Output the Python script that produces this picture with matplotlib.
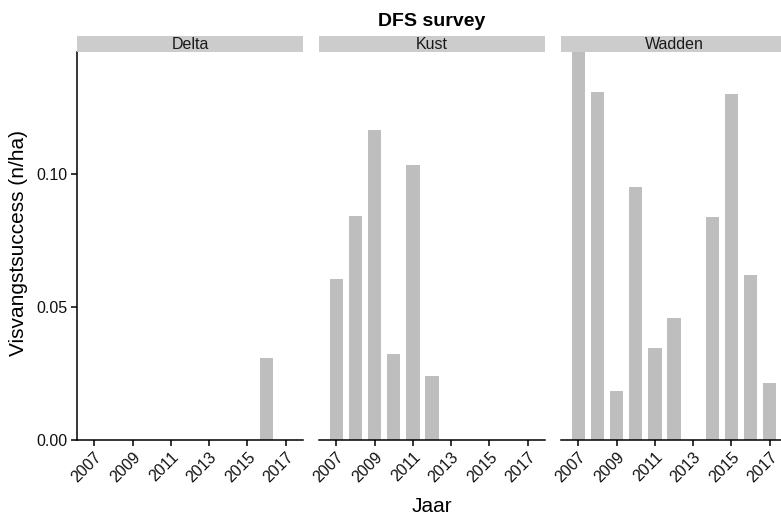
import numpy as np
import matplotlib.pyplot as plt

plt.rcParams["font.family"] = ["Liberation Sans", "DejaVu Sans"]

# data
regions = ["Delta", "Kust", "Wadden"]
delta_years = [2016]
delta_vals = [0.0307]
kust_years = [2007, 2008, 2009, 2010, 2011, 2012]
kust_vals = [0.0604, 0.0842, 0.1167, 0.0323, 0.1034, 0.0241]
wadden_years = [2007, 2008, 2009, 2010, 2011, 2012, 2014, 2015, 2016, 2017]
wadden_vals = [0.146, 0.1309, 0.0185, 0.0951, 0.0345, 0.0459, 0.0839, 0.1300, 0.0619, 0.0212]
xticks = [2007, 2009, 2011, 2013, 2015, 2017]
yticks = [0.00, 0.05, 0.10]

series = {
    "Delta": (delta_years, delta_vals),
    "Kust": (kust_years, kust_vals),
    "Wadden": (wadden_years, wadden_vals),
}

W, H = 781, 517
fig = plt.figure(figsize=(W / 100, H / 100), dpi=100)

lefts = [77, 319, 561]
pw = 226
top, bottom = 52, 439.7
strip_h = 16
ymax = max(wadden_vals)

for i, (name, left) in enumerate(zip(regions, lefts)):
    ax = fig.add_axes([left / W, 1 - bottom / H, pw / W, (bottom - top) / H])
    yrs, vals = series[name]
    ax.bar(yrs, vals, width=0.7, color="#bebebe", zorder=2)
    ax.set_xlim(2006.1, 2017.9)
    ax.set_ylim(0, ymax)
    ax.set_xticks(xticks)
    ax.set_xticklabels([str(x) for x in xticks], rotation=45, ha="right",
                       rotation_mode="anchor", fontsize=11.5, color="#111111")
    for s in ["top", "right"]:
        ax.spines[s].set_visible(False)
    ax.spines["bottom"].set_linewidth(1.1)
    ax.tick_params(axis="x", length=4, width=1.1, color="black", pad=3)
    if i == 0:
        ax.spines["left"].set_linewidth(1.1)
        ax.set_yticks(yticks)
        ax.set_yticklabels(["%.2f" % v for v in yticks], fontsize=11.5,
                           color="#111111")
        ax.tick_params(axis="y", length=4, width=1.1, color="black", pad=3)
    else:
        ax.spines["left"].set_visible(False)
        ax.set_yticks([])
    # facet strip
    sax = fig.add_axes([left / W, 1 - top / H, pw / W, strip_h / H])
    sax.set_facecolor("#cccccc")
    sax.set_xticks([])
    sax.set_yticks([])
    for s in sax.spines.values():
        s.set_visible(False)
    sax.text(0.5, 0.45, name, ha="center", va="center", fontsize=11.5,
             color="#1a1a1a", transform=sax.transAxes)

fig.text(432 / W, 1 - 25.7 / H, "DFS survey", ha="center", va="baseline",
         fontsize=14, fontweight="bold")
fig.text(19 / W, 1 - 243 / H, "Visvangstsuccess (n/ha)", rotation=90,
         ha="center", va="center", fontsize=15)
fig.text(432 / W, 1 - 512.5 / H, "Jaar", ha="center", va="baseline", fontsize=15)

fig.savefig("out.png", dpi=100)
